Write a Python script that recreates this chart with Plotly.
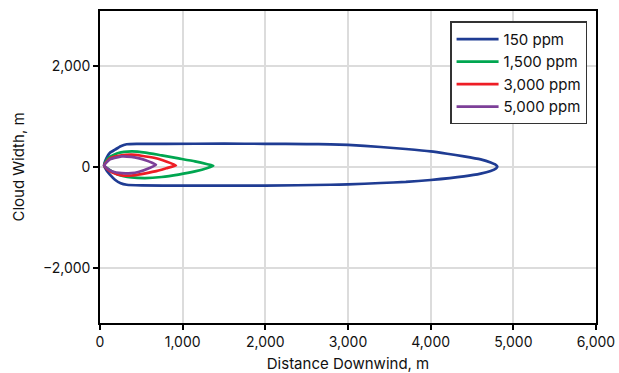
import plotly.graph_objects as go

series_names = ["150 ppm", "1,500 ppm", "3,000 ppm", "5,000 ppm"]
series_colors = ["#1f3c93", "#00a650", "#ee1d25", "#7d3f98"]

# Cloud outlines: upper branch (left -> right), lower branch (right -> left)
x_150 = [50, 80, 120, 181, 250, 323, 450, 800, 1500, 2000, 2500, 2790, 3000, 3395, 3700, 4000, 4200, 4403, 4605, 4726, 4780, 4806,
         4790, 4726, 4605, 4403, 4000, 3700, 3395, 3000, 2790, 2000, 1000, 500, 323, 250, 181, 120, 80, 50]
y_150 = [30, 180, 280, 342, 410, 450, 458, 458, 460, 458, 452, 447, 435, 395, 355, 308, 262, 210, 150, 91, 50, 10,
         -30, -79, -132, -186, -257, -295, -316, -344, -350, -368, -368, -363, -350, -320, -251, -150, -70, 30]

x_1500 = [50, 100, 221, 383, 550, 746, 950, 1149, 1300, 1370,
          1300, 1149, 950, 746, 544, 383, 221, 120, 50]
y_1500 = [30, 180, 276, 309, 285, 229, 170, 111, 55, 25,
          -20, -87, -150, -198, -218, -205, -152, -60, 30]

x_3000 = [50, 120, 262, 383, 500, 665, 800, 919,
          800, 665, 500, 383, 262, 150, 80, 50]
y_3000 = [30, 170, 229, 243, 222, 178, 110, 32,
          -25, -87, -140, -168, -166, -110, -30, 30]

x_5000 = [50, 120, 262, 380, 463, 560, 630, 677,
          600, 463, 380, 262, 150, 80, 50]
y_5000 = [30, 150, 210, 200, 175, 130, 85, 45,
          -20, -99, -120, -122, -90, -20, 30]

x_series = [x_150, x_1500, x_3000, x_5000]
y_series = [y_150, y_1500, y_3000, y_5000]

x_tickvals = [0, 1000, 2000, 3000, 4000, 5000, 6000]
x_ticktext = ["0", "1,000", "2,000", "3,000", "4,000", "5,000", "6,000"]
y_tickvals = [-2000, 0, 2000]
y_ticktext = ["\u22122,000", "0", "2,000"]

fig = go.Figure()
for name, color, xs, ys in zip(series_names, series_colors, x_series, y_series):
    fig.add_trace(go.Scatter(
        x=xs, y=ys, mode="lines", name=name,
        line=dict(color=color, width=2.7, shape="spline", smoothing=0.5),
    ))

font_family = "Inter, Roboto, Arial, sans-serif"
fig.update_layout(
    width=619, height=373,
    margin=dict(l=100, r=23, t=11, b=50),
    paper_bgcolor="white", plot_bgcolor="white",
    font=dict(family=font_family, size=14, color="#111111"),
    showlegend=True,
    legend=dict(
        x=0.982, y=0.967, xanchor="right", yanchor="top",
        bgcolor="white", bordercolor="#333333", borderwidth=1.5,
        font=dict(size=15, color="#111111"),
        tracegroupgap=0, itemwidth=42,
    ),
    xaxis=dict(
        range=[0, 6000], tickvals=x_tickvals, ticktext=x_ticktext,
        showgrid=True, gridcolor="#dcdcdc", gridwidth=1.5,
        showline=True, linecolor="black", linewidth=1.5, mirror=True,
        ticks="outside", ticklen=5, tickcolor="black", tickwidth=1.5,
        zeroline=False, automargin=False,
        title=dict(text="Distance Downwind, m", font=dict(size=15)),
    ),
    yaxis=dict(
        range=[-3080, 3080], tickvals=y_tickvals, ticktext=y_ticktext,
        showgrid=True, gridcolor="#dcdcdc", gridwidth=1.5,
        showline=True, linecolor="black", linewidth=1.5, mirror=True,
        ticks="outside", ticklen=5, tickcolor="black", tickwidth=1.5,
        zeroline=False, automargin=False,
        title=dict(text="Cloud Width, m", font=dict(size=15)),
    ),
)

fig.write_html("out.html")
